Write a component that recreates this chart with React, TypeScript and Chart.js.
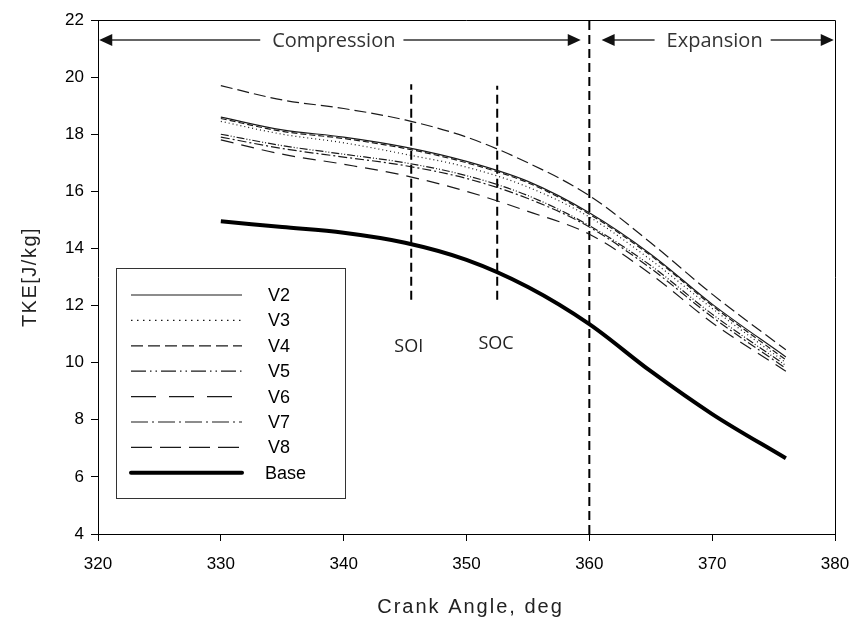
import React, { useEffect, useRef } from 'react';
import { Chart, registerables } from 'chart.js';
Chart.register(...registerables);

// ---- data ----
const angles = [330, 335, 340, 345, 350, 355, 360, 365, 370, 376];
const v2 = [18.6, 18.15, 17.9, 17.55, 17.05, 16.35, 15.25, 13.8, 12.05, 10.2];
const v3 = [18.45, 18.0, 17.7, 17.3, 16.85, 16.15, 15.1, 13.6, 11.9, 10.0];
const v4 = [18.55, 18.1, 17.85, 17.5, 17.0, 16.3, 15.2, 13.75, 12.0, 10.1];
const v5 = [18.0, 17.6, 17.3, 17.0, 16.55, 15.85, 14.8, 13.4, 11.7, 9.9];
const v6 = [17.8, 17.3, 16.95, 16.55, 16.0, 15.3, 14.5, 13.1, 11.4, 9.7];
const v7 = [17.9, 17.5, 17.2, 16.9, 16.45, 15.75, 14.75, 13.3, 11.6, 9.8];
const v8 = [19.7, 19.2, 18.9, 18.5, 17.9, 17.0, 15.85, 14.2, 12.4, 10.45];
const base = [14.95, 14.75, 14.55, 14.2, 13.6, 12.65, 11.35, 9.7, 8.2, 6.65];

const seriesNames = ['V2', 'V3', 'V4', 'V5', 'V6', 'V7', 'V8', 'Base'];
const seriesValues = [v2, v3, v4, v5, v6, v7, v8, base];
const seriesDash = [[], [1, 3], [6, 3], [8, 2, 1, 2, 1, 2], [13, 8], [9, 3, 2, 3], [12, 5], []];
const legendDash = [[], [1.5, 4.5], [12, 5], [15, 4, 1.5, 4, 1.5, 4], [25, 13], [17, 4, 2, 4], [21, 8], []];

const soiX = [345.5, 345.5];
const soiY = [12.2, 19.75];
const socX = [352.5, 352.5];
const socY = [12.2, 19.7];
const tdcX = [360, 360];
const tdcY = [4, 22];

const xMin = 320, xMax = 380, xStep = 10;
const yMin = 4, yMax = 22, yStep = 2;

const compression = { label: 'Compression', from: 320.1, to: 359.3, textAt: 339.2 };
const expansion = { label: 'Expansion', from: 361.0, to: 379.9, textAt: 370.2 };
const arrowY = 21.3;
const soiLabel = { text: 'SOI', x: 345.3, y: 10.55 };
const socLabel = { text: 'SOC', x: 352.4, y: 10.65 };

const lineColor = '#1a1a1a';

function drawArrowHead(ctx: CanvasRenderingContext2D, x: number, y: number, dir: number) {
  ctx.beginPath();
  ctx.moveTo(x, y);
  ctx.lineTo(x - dir * 13, y - 6);
  ctx.lineTo(x - dir * 13, y + 6);
  ctx.closePath();
  ctx.fill();
}

function drawArrowWithText(ctx: CanvasRenderingContext2D, chart: any, a: any) {
  const xs = chart.scales.x;
  const ys = chart.scales.y;
  const y = ys.getPixelForValue(arrowY);
  const x1 = xs.getPixelForValue(a.from);
  const x2 = xs.getPixelForValue(a.to);
  const xt = xs.getPixelForValue(a.textAt);
  ctx.save();
  ctx.font = '20px "Open Sans"';
  const w = ctx.measureText(a.label).width;
  ctx.fillStyle = '#333';
  ctx.textAlign = 'center';
  ctx.textBaseline = 'middle';
  ctx.fillText(a.label, xt, y + 1);
  ctx.strokeStyle = '#333';
  ctx.fillStyle = '#111';
  ctx.lineWidth = 1.5;
  ctx.beginPath();
  ctx.moveTo(x1 + 5, y);
  ctx.lineTo(xt - w / 2 - 12, y);
  ctx.moveTo(xt + w / 2 + 8, y);
  ctx.lineTo(x2 - 5, y);
  ctx.stroke();
  drawArrowHead(ctx, x1, y, -1);
  drawArrowHead(ctx, x2, y, 1);
  ctx.restore();
}

const overlayPlugin = {
  id: 'overlay',
  afterDraw(chart: any) {
    const ctx: CanvasRenderingContext2D = chart.ctx;
    const { left, right, top, bottom } = chart.chartArea;
    const xs = chart.scales.x;
    const ys = chart.scales.y;
    ctx.save();
    // frame top and right
    ctx.strokeStyle = '#000';
    ctx.lineWidth = 1;
    ctx.beginPath();
    ctx.moveTo(left, top + 0.5);
    ctx.lineTo(right + 0.5, top + 0.5);
    ctx.lineTo(right + 0.5, bottom);
    ctx.stroke();

    drawArrowWithText(ctx, chart, compression);
    drawArrowWithText(ctx, chart, expansion);

    // SOI / SOC labels
    ctx.font = '18px "Open Sans"';
    ctx.fillStyle = '#222';
    ctx.textAlign = 'center';
    ctx.textBaseline = 'middle';
    for (const l of [soiLabel, socLabel]) {
      ctx.fillText(l.text, xs.getPixelForValue(l.x), ys.getPixelForValue(l.y));
    }

    // legend box
    const lx = 116, ly = 268, lw = 229, lh = 230;
    ctx.fillStyle = '#fff';
    ctx.fillRect(lx, ly, lw, lh);
    ctx.strokeStyle = '#333';
    ctx.lineWidth = 1;
    ctx.strokeRect(lx + 0.5, ly + 0.5, lw, lh);
    ctx.font = '18px "Liberation Sans", Arial';
    ctx.textAlign = 'left';
    ctx.textBaseline = 'middle';
    seriesNames.forEach((name, i) => {
      const yy = ly + 27 + i * 25.4;
      const isBase = name === 'Base';
      ctx.save();
      ctx.strokeStyle = isBase ? '#000' : lineColor;
      ctx.lineWidth = isBase ? 4 : 1.2;
      ctx.lineCap = isBase ? 'round' : 'butt';
      ctx.setLineDash(legendDash[i]);
      ctx.beginPath();
      ctx.moveTo(131, yy);
      ctx.lineTo(242, yy);
      ctx.stroke();
      ctx.restore();
      ctx.fillStyle = '#000';
      ctx.fillText(name, isBase ? 265 : 268, yy + 1);
    });

    // axis titles
    ctx.fillStyle = '#222';
    ctx.font = '20px "Liberation Sans", Arial';
    (ctx as any).letterSpacing = '2px';
    ctx.textAlign = 'center';
    ctx.textBaseline = 'middle';
    ctx.fillText('Crank Angle, deg', (left + right) / 2 + 4, 607);
    (ctx as any).letterSpacing = '1.5px';
    ctx.translate(30, (top + bottom) / 2);
    ctx.rotate(-Math.PI / 2);
    ctx.fillText('TKE[J/kg]', 0, 0);
    (ctx as any).letterSpacing = '0px';
    ctx.restore();
  },
};

export default function App() {
  const ref = useRef<HTMLCanvasElement>(null);
  useEffect(() => {
    document.body.style.margin = '0';
    const datasets: any[] = seriesNames.map((name, i) => ({
      label: name,
      data: angles.map((a, j) => ({ x: a, y: seriesValues[i][j] })),
      borderColor: name === 'Base' ? '#000' : lineColor,
      borderWidth: name === 'Base' ? 4 : 1.2,
      borderDash: seriesDash[i],
      pointRadius: 0,
      cubicInterpolationMode: 'monotone',
      fill: false,
    }));
    const vlines = [
      { x: soiX, y: soiY, w: 2 },
      { x: socX, y: socY, w: 2 },
      { x: tdcX, y: tdcY, w: 2 },
    ];
    vlines.forEach((v, k) => {
      datasets.push({
        label: 'vline' + k,
        data: v.x.map((xx, j) => ({ x: xx, y: v.y[j] })),
        borderColor: '#000',
        borderWidth: v.w,
        borderDash: [9, 5],
        pointRadius: 0,
        fill: false,
      });
    });
    const chart = new Chart(ref.current!, {
      type: 'line',
      data: { datasets },
      options: {
        animation: false,
        responsive: true,
        maintainAspectRatio: false,
        layout: { padding: { top: 20, right: 17, left: 0, bottom: 0 } },
        plugins: { legend: { display: false }, tooltip: { enabled: false } },
        scales: {
          x: {
            type: 'linear',
            min: xMin,
            max: xMax,
            afterFit: (s: any) => { s.height = 88; s.paddingLeft = 0; s.paddingRight = 0; },
            ticks: { stepSize: xStep, color: '#000', font: { family: '"Liberation Sans", Arial', size: 17 }, padding: 13 },
            grid: { drawOnChartArea: false, drawTicks: true, tickLength: 7, color: '#000' },
            border: { display: true, color: '#000', width: 1 },
          },
          y: {
            type: 'linear',
            min: yMin,
            max: yMax,
            afterFit: (s: any) => { s.width = 98; s.paddingTop = 0; s.paddingBottom = 0; },
            ticks: { stepSize: yStep, color: '#000', font: { family: '"Liberation Sans", Arial', size: 17 }, padding: 7 },
            grid: { drawOnChartArea: false, drawTicks: true, tickLength: 7, color: '#000' },
            border: { display: true, color: '#000', width: 1 },
          },
        },
      },
      plugins: [overlayPlugin],
    });
    return () => chart.destroy();
  }, []);
  return (
    <div style={{ position: 'absolute', left: 0, top: 0, width: 852, height: 622 }}>
      <canvas ref={ref} />
    </div>
  );
}
